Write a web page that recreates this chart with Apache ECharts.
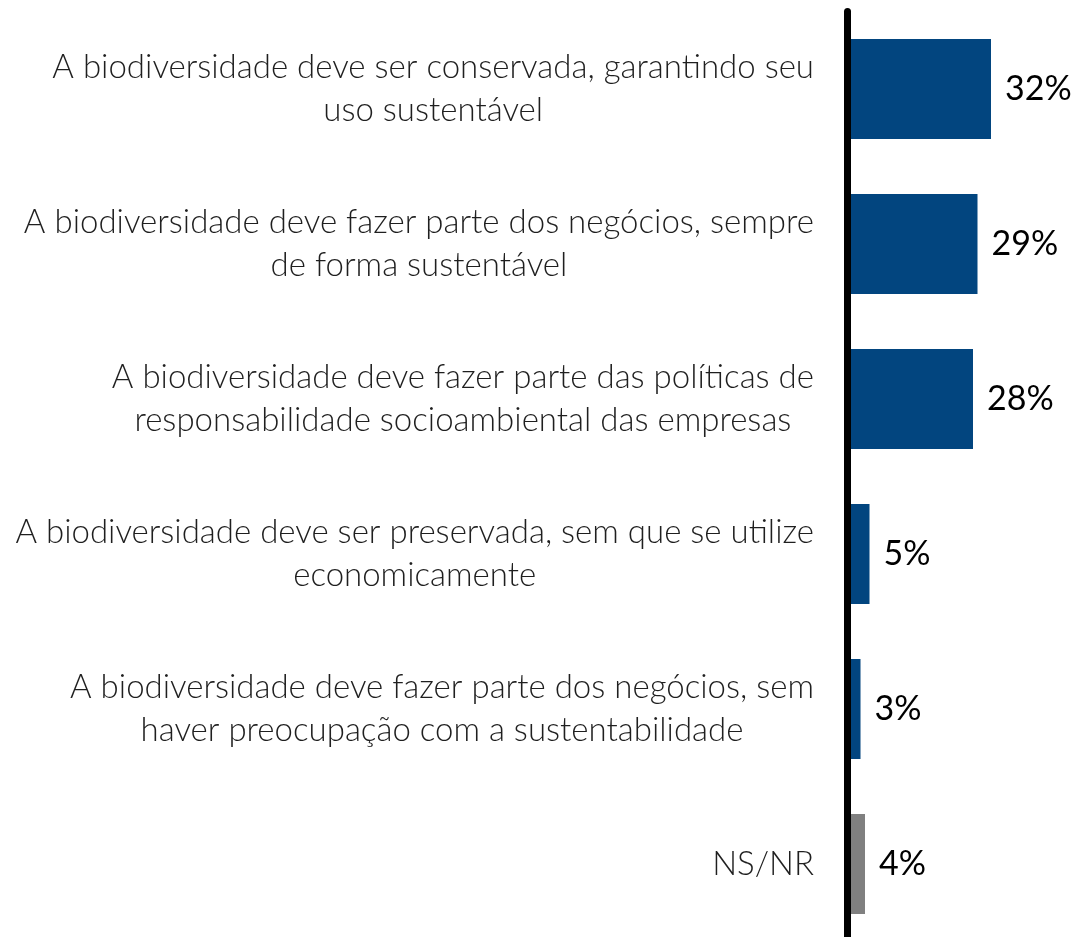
<!DOCTYPE html>
<html>
<head>
<meta charset="utf-8">
<script src="https://cdn.jsdelivr.net/npm/echarts@6/dist/echarts.min.js"></script>
<style>
  html, body { margin: 0; padding: 0; background: #fff; }
  #chart { width: 1079px; height: 937px; }
</style>
</head>
<body>
<div id="chart"></div>
<script>
// categorias (quebra de linha como no original)
var categories = [
  'A biodiversidade deve ser conservada, garantindo seu\nuso sustentável',
  'A biodiversidade deve fazer parte dos negócios, sempre\nde forma sustentável',
  'A biodiversidade deve fazer parte das políticas de\nresponsabilidade socioambiental das empresas',
  'A biodiversidade deve ser preservada, sem que se utilize\neconomicamente',
  'A biodiversidade deve fazer parte dos negócios, sem\nhaver preocupação com a sustentabilidade',
  'NS/NR'
];
var values = [32, 29, 28, 5, 3, 4];
var barColors = ['#02457f', '#02457f', '#02457f', '#02457f', '#02457f', '#808080'];

(function () {
  var myChart = echarts.init(document.getElementById('chart'));

  var seriesData = [];
  for (var i = 0; i < values.length; i++) {
    seriesData.push({ value: values[i], itemStyle: { color: barColors[i] } });
  }

  var option = {
    animation: false,
    // a grade passa um pouco da borda inferior, como no original
    grid: {
      left: 847,
      right: 7,
      top: 11.5,
      bottom: -4.5,
      containLabel: false,
      outerBoundsMode: 'none'
    },
    xAxis: {
      type: 'value',
      min: 0,
      max: 50,
      show: false
    },
    yAxis: {
      type: 'category',
      inverse: true,
      data: categories,
      z: 10,
      axisTick: { show: false },
      axisLine: {
        show: true,
        lineStyle: { color: '#000', width: 7 }
      },
      axisLabel: {
        margin: 33,
        align: 'right',
        // cada linha centrada dentro do bloco
        formatter: function (v) {
          return v.split('\n').map(function (s) { return '{c|' + s + '}'; }).join('\n');
        },
        rich: {
          c: {
            align: 'center',
            color: '#1f1f1f',
            fontFamily: 'Lato',
            fontWeight: 300,
            fontSize: 33,
            lineHeight: 43
          }
        }
      }
    },
    series: [{
      type: 'bar',
      barWidth: 100,
      data: seriesData,
      label: {
        show: true,
        position: 'right',
        distance: 14,
        formatter: '{c}%',
        color: '#000',
        fontFamily: 'Lato',
        fontSize: 34
      }
    }]
  };

  myChart.setOption(option);
  window.addEventListener('resize', function () {
    myChart.resize();
  });
})();
</script>
</body>
</html>
